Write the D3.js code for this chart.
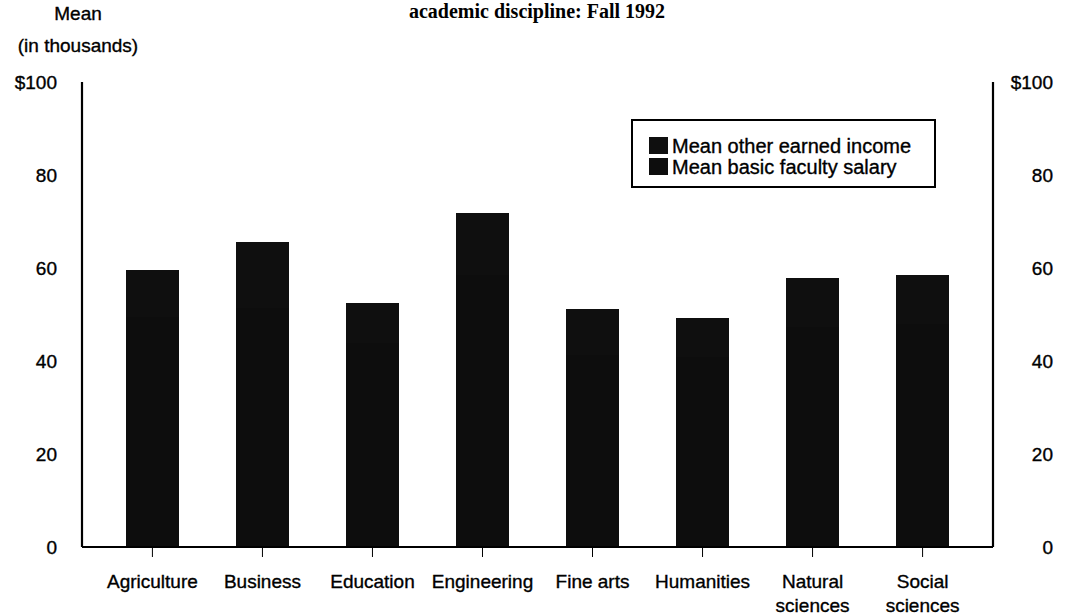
<!DOCTYPE html>
<html>
<head>
<meta charset="utf-8">
<script src="https://cdn.jsdelivr.net/npm/d3@7"></script>
<style>
  html, body { margin: 0; padding: 0; background: #ffffff; }
  svg { display: block; font-family: "Liberation Sans", Arial, sans-serif; }
  svg text.s { stroke: #000; stroke-width: 0.35px; }
</style>
</head>
<body>
<svg id="chart" width="1065" height="615"></svg>
<script>
// ---- data (thousands of dollars) ----
const categories = ["Agriculture", "Business", "Education", "Engineering", "Fine arts", "Humanities", "Natural sciences", "Social sciences"];
const categoryLines = [["Agriculture"], ["Business"], ["Education"], ["Engineering"], ["Fine arts"], ["Humanities"], ["Natural", "sciences"], ["Social", "sciences"]];
const basicSalary = [49.5, 51.5, 44.0, 58.5, 41.5, 41.0, 47.5, 48.0];
const otherIncome = [10.0, 14.0, 8.5, 13.3, 9.7, 8.2, 10.3, 10.5];
const yTicks = [0, 20, 40, 60, 80, 100];
const seriesNames = ["Mean other earned income", "Mean basic faculty salary"];

(function () {
const svg = d3.select("#chart");
const mLeft = 82, mRight = 993, mTop = 82, mBottom = 547;

const x = d3.scaleBand().domain(categories).range([mLeft, mRight]).paddingInner(0.52).paddingOuter(0.40);
const y = d3.scaleLinear().domain([0, 100]).range([mBottom, mTop]);

const rows = categories.map((c, i) => ({ cat: c, basic: basicSalary[i], other: otherIncome[i] }));
const stacked = d3.stack().keys(["basic", "other"])(rows);
const colors = { basic: "#0d0d0d", other: "#0f0f0f" };

// title (cropped at top of the page in the source)
svg.append("text")
  .attr("x", 537).attr("y", 18)
  .attr("text-anchor", "middle")
  .attr("font-family", "'Liberation Serif', 'Times New Roman', serif")
  .attr("font-weight", "bold")
  .attr("font-size", 20)
  .text("academic discipline: Fall 1992");

// y axis title
svg.append("text").attr("class", "s").attr("x", 78).attr("y", 20).attr("text-anchor", "middle")
  .attr("font-size", 19).text("Mean");
svg.append("text").attr("class", "s").attr("x", 78).attr("y", 52).attr("text-anchor", "middle")
  .attr("font-size", 19).text("(in thousands)");

// bars
svg.append("g").selectAll("g").data(stacked).join("g")
  .attr("fill", d => colors[d.key])
  .attr("shape-rendering", "crispEdges")
  .selectAll("rect").data(d => d).join("rect")
  .attr("x", d => x(d.data.cat))
  .attr("width", x.bandwidth())
  .attr("y", d => y(d[1]))
  .attr("height", d => y(d[0]) - y(d[1]) + 0.5);

// left axis
const fmt = v => v === 100 ? "$100" : String(v);
const gL = svg.append("g").attr("transform", `translate(${mLeft},0)`)
  .call(d3.axisLeft(y).tickValues(yTicks).tickFormat(fmt).tickSize(0).tickPadding(25));
gL.select(".domain").attr("stroke", "#000").attr("stroke-width", 2.2).attr("d", `M0,${mTop}V${mBottom}`);
gL.selectAll("text").attr("class", "s").attr("font-size", 19).attr("font-family", "'Liberation Sans', Arial, sans-serif").attr("fill", "#000");

// right axis
const gR = svg.append("g").attr("transform", `translate(${mRight},0)`)
  .call(d3.axisRight(y).tickValues(yTicks).tickFormat(fmt).tickSize(0).tickPadding(60));
gR.select(".domain").attr("stroke", "#000").attr("stroke-width", 2.2).attr("d", `M0,${mTop}V${mBottom}`);
gR.selectAll("text").attr("class", "s").attr("font-size", 19).attr("text-anchor", "end")
  .attr("font-family", "'Liberation Sans', Arial, sans-serif").attr("fill", "#000");

// bottom axis
const gB = svg.append("g").attr("transform", `translate(0,${mBottom})`)
  .call(d3.axisBottom(x).tickSize(10).tickSizeOuter(0).tickPadding(12).tickFormat(""));
gB.select(".domain").attr("stroke", "#000").attr("stroke-width", 2.2).attr("d", `M${mLeft},0H${mRight}`);
gB.selectAll(".tick line").attr("stroke", "#000").attr("stroke-width", 1);
gB.selectAll(".tick").each(function(d) {
  const lines = categoryLines[categories.indexOf(d)];
  const t = d3.select(this).append("text").attr("class", "s")
    .attr("fill", "#000").attr("font-size", 19).attr("text-anchor", "middle")
    .attr("font-family", "'Liberation Sans', Arial, sans-serif");
  lines.forEach((w, i) => t.append("tspan").attr("x", 0).attr("y", 41 + i * 24).text(w));
});

// legend
const lg = svg.append("g");
lg.append("rect").attr("x", 632).attr("y", 120).attr("width", 303).attr("height", 67)
  .attr("fill", "#fff").attr("stroke", "#000").attr("stroke-width", 2);
seriesNames.forEach((name, i) => {
  lg.append("rect").attr("x", 649).attr("y", 137 + i * 21).attr("width", 19).attr("height", 17)
    .attr("fill", i === 0 ? colors.other : colors.basic);
  lg.append("text").attr("class", "s").attr("x", 672).attr("y", 153 + i * 21)
    .attr("font-size", 20).attr("fill", "#000").text(name);
});
})();
</script>
</body>
</html>
